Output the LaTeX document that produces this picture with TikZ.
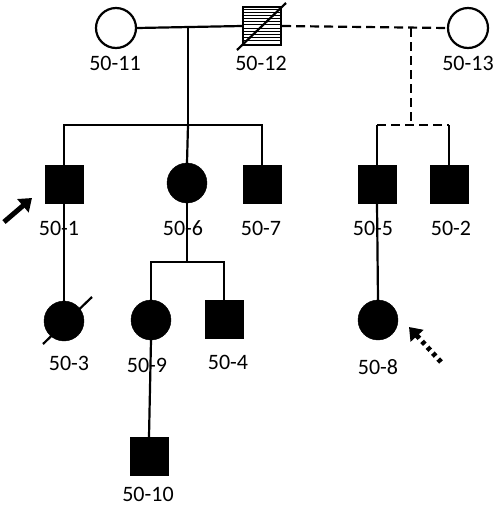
\documentclass[tikz,border=0pt]{standalone}
\usepackage{fontspec}
\setmainfont{Carlito}
\usetikzlibrary{arrows.meta}

\tikzset{
  male/.style={rectangle, draw, fill=black, minimum size=38pt, inner sep=0pt},
  female/.style={circle, draw, fill=black, minimum size=40pt, inner sep=0pt},
  lbl/.style={font=\fontsize{22}{24}\selectfont, inner sep=0pt},
  kin/.style={line width=2.2pt},
  kindash/.style={kin, dash pattern=on 9pt off 5pt}
}

\begin{document}
\begin{tikzpicture}[x=1pt,y=-1pt]
        \useasboundingbox (0,0) rectangle (498,507);

        % Первое поколение
        \node[female, fill=white, kin] (n11) at (116,28) {};
        \node[male, fill=white, kin] (n12) at (262,26) {};
        \node[female, fill=white, kin] (n13) at (468,28) {};
        % штриховка 50-12
        \foreach \k in {1,...,11}
            \draw[line width=0.9pt] ([yshift=-\k*3.17pt]n12.north west) -- ([yshift=-\k*3.17pt]n12.north east);
        \draw[kin] ([shift={(-25,24)}]n12.center) -- ([shift={(24,-23)}]n12.center);

        % Второе поколение
        \node[male] (n1) at (64,184) {};
        \node[female] (n6) at (187,183) {};
        \node[male] (n7) at (262,184) {};
        \node[male] (n5) at (377,184) {};
        \node[male] (n2) at (449,184) {};

        % Третье и четвёртое поколения
        \node[female] (n3) at (64,321) {};
        \node[female] (n9) at (151,320) {};
        \node[male] (n4) at (224,319) {};
        \node[female] (n8) at (378,320) {};
        \node[male] (n10) at (149,456) {};
        \draw[kin] ([shift={(-21,23)}]n3.center) -- ([shift={(28,-24)}]n3.center);

        % Подписи
        \node[lbl] (l11) at (115,63) {50-11};
        \node[lbl] (l12) at (261,63) {50-12};
        \node[lbl] (l13) at (468,63) {50-13};
        \node[lbl] (l1) at (59,228) {50-1};
        \node[lbl] (l6) at (183,228) {50-6};
        \node[lbl] (l7) at (261,228) {50-7};
        \node[lbl] (l5) at (373,228) {50-5};
        \node[lbl] (l2) at (451,228) {50-2};
        \node[lbl] (l3) at (69,363) {50-3};
        \node[lbl] (l9) at (147,365) {50-9};
        \node[lbl] (l4) at (228,362) {50-4};
        \node[lbl] (l8) at (378,367) {50-8};
        \node[lbl] (l10) at (148,494) {50-10};

        % Брак 50-11 и 50-12, их дети
        \coordinate (m1) at (188,28);
        \coordinate (s1) at (188,125);
        \draw[kin] (n11.east) -- (n12.west);
        \draw[kin] (m1) -- (s1);
        \draw[kin] (n1.north) |- (s1) -| (n7.north);
        \draw[kin] (s1) -- (n6.north);

        % Связь 50-12 и 50-13 (пунктир)
        \coordinate (m2) at (411,28);
        \coordinate (s2) at (411,125);
        \draw[kindash] (n12.east) -- (n13.west);
        \draw[kindash] (m2) -- (s2);
        \draw[kindash] (n5.north |- s2) -- (n2.north |- s2);
        \draw[kin] (n5.north) -- (n5.north |- s2);
        \draw[kin] (n2.north) -- (n2.north |- s2);

        % Потомки
        \draw[kin] (n1.south) -- (n3.north);
        \coordinate (s3) at (187,262);
        \draw[kin] (n6.south) -- (s3);
        \draw[kin] (n9.north) |- (s3) -| (n4.north);
        \draw[kin] (n9.south) -- (n10.north);
        \draw[kin] (n5.south) -- (n8.north);

        % Стрелки (пробанд)
        \coordinate (p1) at (4,222);
        \coordinate (p2) at (32,198);
        \draw[line width=5pt, -{Triangle[length=12pt,width=17pt]}] (p1) -- (p2);
        \coordinate (q1) at (441,362);
        \coordinate (q2) at (409,327);
        \draw[line width=5pt, dash pattern=on 4pt off 4pt, -{Triangle[length=12pt,width=17pt]}] (q1) -- (q2);
    \end{tikzpicture}
\end{document}
